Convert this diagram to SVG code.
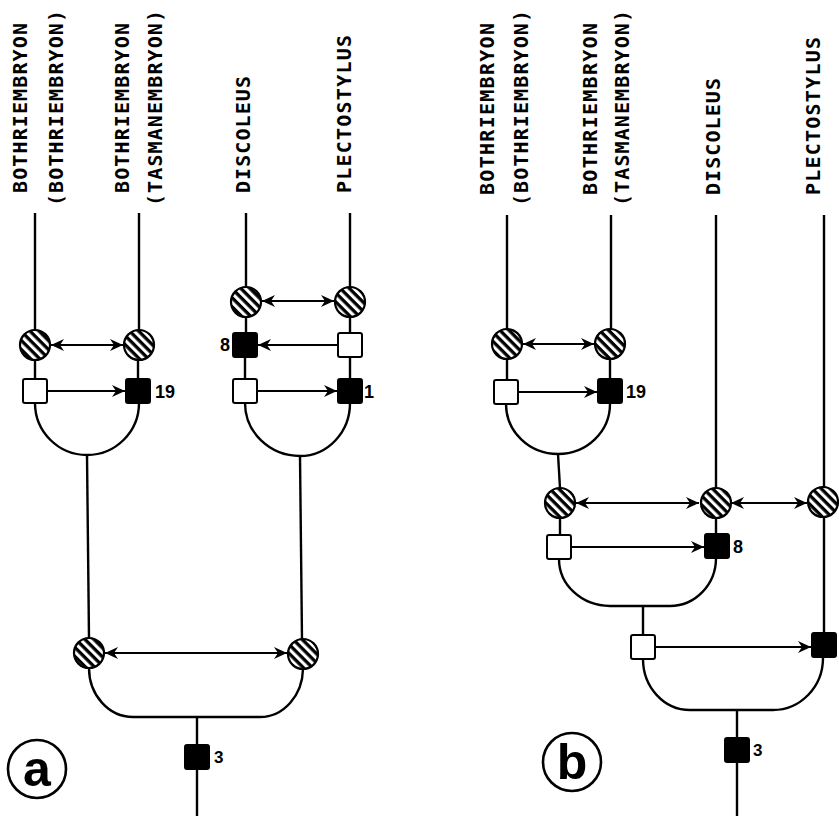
<svg xmlns="http://www.w3.org/2000/svg" width="839" height="818" viewBox="0 0 839 818">
<style>
.ln{fill:none;stroke:#000;stroke-width:2.4}
.ar{fill:none;stroke:#000;stroke-width:2.2;marker-end:url(#ah)}
.da{fill:none;stroke:#000;stroke-width:2.2;marker-end:url(#ah);marker-start:url(#ah)}
.hc{fill:url(#hatch);stroke:#000;stroke-width:2.2}
.os{fill:#fff;stroke:#000;stroke-width:2}
.fs{fill:#000;stroke:#000;stroke-width:2}
.tx{font-family:"DejaVu Sans Mono","Liberation Mono",monospace;font-weight:bold;font-size:20px;fill:#000}
.num{font-family:"Liberation Sans",Arial,sans-serif;font-weight:bold;font-size:18px;fill:#000}
.pl{font-family:"Liberation Sans",Arial,sans-serif;font-weight:bold;font-size:50px;fill:#000}
.pc{fill:none;stroke:#000;stroke-width:2.6}
</style>
<defs>
<pattern id="hatch" patternUnits="userSpaceOnUse" width="6.4" height="6.4" patternTransform="rotate(45)">
<rect width="6.4" height="6.4" fill="#fff"/>
<rect width="6.4" height="3.3" fill="#000"/>
</pattern>
<marker id="ah" markerUnits="userSpaceOnUse" markerWidth="14" markerHeight="12" refX="13" refY="6" orient="auto-start-reverse">
<path d="M0,0 L13,6 L0,12 L4,6 Z" fill="#000"/>
</marker>
</defs>

<g id="labels">
<text class="tx" transform="translate(27,193) rotate(-90)" textLength="170" lengthAdjust="spacing">BOTHRIEMBRYON</text>
<text class="tx" transform="translate(63,206) rotate(-90)" textLength="196" lengthAdjust="spacing">(BOTHRIEMBRYON)</text>
<text class="tx" transform="translate(129,193) rotate(-90)" textLength="170" lengthAdjust="spacing">BOTHRIEMBRYON</text>
<text class="tx" transform="translate(162,206) rotate(-90)" textLength="196" lengthAdjust="spacing">(TASMANEMBRYON)</text>
<text class="tx" transform="translate(250,193) rotate(-90)" textLength="117" lengthAdjust="spacing">DISCOLEUS</text>
<text class="tx" transform="translate(351,193) rotate(-90)" textLength="158" lengthAdjust="spacing">PLECTOSTYLUS</text>

<text class="tx" transform="translate(494,195) rotate(-90)" textLength="172" lengthAdjust="spacing">BOTHRIEMBRYON</text>
<text class="tx" transform="translate(528,206) rotate(-90)" textLength="196" lengthAdjust="spacing">(BOTHRIEMBRYON)</text>
<text class="tx" transform="translate(597,195) rotate(-90)" textLength="172" lengthAdjust="spacing">BOTHRIEMBRYON</text>
<text class="tx" transform="translate(629,206) rotate(-90)" textLength="196" lengthAdjust="spacing">(TASMANEMBRYON)</text>
<text class="tx" transform="translate(720,195) rotate(-90)" textLength="117" lengthAdjust="spacing">DISCOLEUS</text>
<text class="tx" transform="translate(820,195) rotate(-90)" textLength="158" lengthAdjust="spacing">PLECTOSTYLUS</text>
</g>

<g id="connectors">
<!-- panel a -->
<path class="ln" d="M35,213 V330 M35,360 V379 M139,213 V330 M138,360 V379"/>
<path class="ln" d="M35,403 A52,52 0 0 0 139,403"/>
<path class="ln" d="M87,455 L89,638"/>
<path class="ln" d="M246,213 V287 M350,213 V287 M246,317 V333 M350,317 V333 M245,357 V379 M350,357 V379"/>
<path class="ln" d="M245,403 A55,53 0 0 0 300,456 A50,53 0 0 0 350,403"/>
<path class="ln" d="M300,456 L302,639"/>
<path class="ln" d="M89,668 A44,49 0 0 0 133,717 L260,717 A43,49 0 0 0 303,669"/>
<path class="ln" d="M197,717 V745 M197,769 V816"/>
<path class="da" d="M51,345 H123"/>
<path class="ar" d="M47,391 H125"/>
<path class="da" d="M262,301 H334"/>
<path class="ar" d="M338,345 H258"/>
<path class="ar" d="M257,391 H337"/>
<path class="da" d="M105,653 H287"/>
<!-- panel b -->
<path class="ln" d="M507,215 V329 M507,359 V380 M611,215 V329 M610,359 V379"/>
<path class="ln" d="M506,404 A52,50 0 0 0 610,404"/>
<path class="ln" d="M558,454 L560,488"/>
<path class="ln" d="M716,215 V488 M824,215 V487 M824,517 V633"/>
<path class="ln" d="M560,518 V535 M716,518 V534"/>
<path class="ln" d="M559,559 A51,47 0 0 0 610,606 L670,606 A46,48 0 0 0 716,558"/>
<path class="ln" d="M643,606 V635"/>
<path class="ln" d="M643,659 A47,51 0 0 0 690,710 L773,710 A50,52 0 0 0 823,658"/>
<path class="ln" d="M737,710 V738 M737,762 V816"/>
<path class="da" d="M523,344 H594"/>
<path class="ar" d="M518,392 H597"/>
<path class="da" d="M576,503 H699"/>
<path class="da" d="M731,503 H807"/>
<path class="ar" d="M571,547 H704"/>
<path class="ar" d="M655,647 H811"/>
</g>

<g id="nodes">
<g id="a-c1"><circle class="hc" cx="35" cy="345" r="15"/></g>
<g id="a-c2"><circle class="hc" cx="139" cy="345" r="15"/></g>
<g id="a-s1"><rect class="os" x="23" y="379" width="24" height="24" rx="2"/></g>
<g id="a-s2"><rect class="fs" x="126" y="379" width="24" height="24" rx="2"/><text class="num" x="155" y="398">19</text></g>
<g id="a-c3"><circle class="hc" cx="246" cy="302" r="15"/></g>
<g id="a-c4"><circle class="hc" cx="350" cy="302" r="15"/></g>
<g id="a-s3"><rect class="fs" x="233" y="333" width="24" height="24" rx="2"/><text class="num" x="230" y="351" text-anchor="end">8</text></g>
<g id="a-s4"><rect class="os" x="338" y="333" width="24" height="24" rx="2"/></g>
<g id="a-s5"><rect class="os" x="233" y="379" width="24" height="24" rx="2"/></g>
<g id="a-s6"><rect class="fs" x="338" y="379" width="24" height="24" rx="2"/><text class="num" x="364" y="398">1</text></g>
<g id="a-c5"><circle class="hc" cx="89" cy="653" r="15"/></g>
<g id="a-c6"><circle class="hc" cx="303" cy="654" r="15"/></g>
<g id="a-s7"><rect class="fs" x="185" y="745" width="24" height="24" rx="2"/><text class="num" x="214" y="763" style="font-size:17px">3</text></g>
<g id="label-a"><circle class="pc" cx="37" cy="769" r="29"/><text class="pl" x="37" y="786" text-anchor="middle">a</text></g>

<g id="b-c1"><circle class="hc" cx="507" cy="344" r="15"/></g>
<g id="b-c2"><circle class="hc" cx="610" cy="344" r="15"/></g>
<g id="b-s1"><rect class="os" x="494" y="380" width="24" height="24" rx="2"/></g>
<g id="b-s2"><rect class="fs" x="598" y="379" width="24" height="24" rx="2"/><text class="num" x="626" y="398">19</text></g>
<g id="b-c3"><circle class="hc" cx="560" cy="503" r="15"/></g>
<g id="b-c4"><circle class="hc" cx="716" cy="503" r="15"/></g>
<g id="b-c5"><circle class="hc" cx="823" cy="502" r="15"/></g>
<g id="b-s3"><rect class="os" x="547" y="535" width="24" height="24" rx="2"/></g>
<g id="b-s4"><rect class="fs" x="705" y="534" width="24" height="24" rx="2"/><text class="num" x="733" y="553">8</text></g>
<g id="b-s5"><rect class="os" x="631" y="635" width="24" height="24" rx="2"/></g>
<g id="b-s6"><rect class="fs" x="812" y="633" width="24" height="24" rx="2"/></g>
<g id="b-s7"><rect class="fs" x="725" y="738" width="24" height="24" rx="2"/><text class="num" x="753" y="756" style="font-size:17px">3</text></g>
<g id="label-b"><circle class="pc" cx="572" cy="762" r="29"/><text class="pl" x="572" y="779" text-anchor="middle">b</text></g>
</g>
</svg>
